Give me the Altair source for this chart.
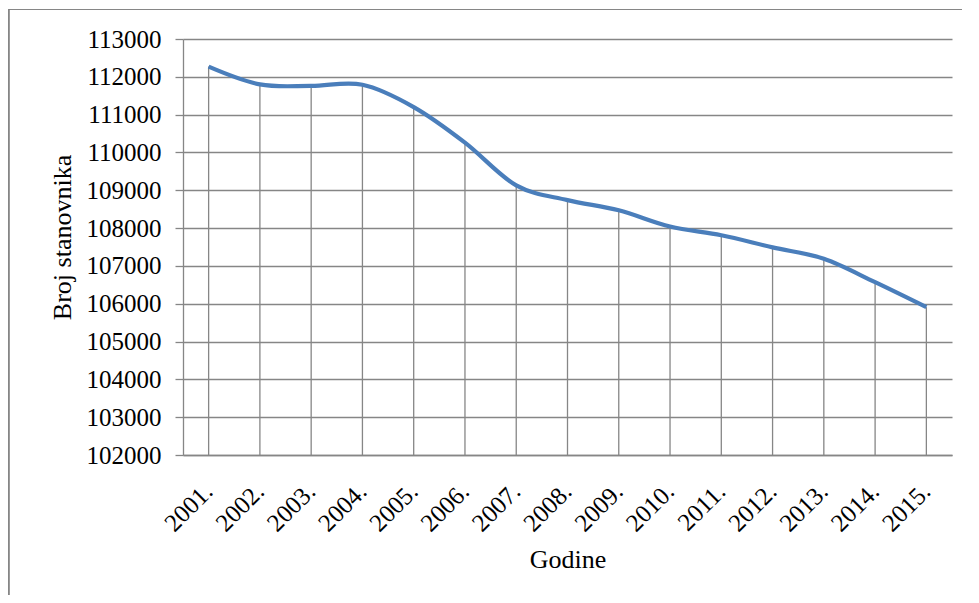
import altair as alt
import pandas as pd

years = ["2001.", "2002.", "2003.", "2004.", "2005.", "2006.", "2007.", "2008.",
         "2009.", "2010.", "2011.", "2012.", "2013.", "2014.", "2015."]
population = [112270, 111800, 111760, 111790, 111200, 110260, 109130, 108740,
              108470, 108040, 107810, 107490, 107190, 106570, 105910]
y_ticks = [102000, 103000, 104000, 105000, 106000, 107000, 108000, 109000,
           110000, 111000, 112000, 113000]
y_min, y_max = 102000, 113000

df = pd.DataFrame({"Godine": years, "Broj": population, "Base": [y_min] * len(years)})

FONT = "Liberation Serif"
GRID = "#868686"

x_axis = alt.Axis(labelAngle=-45, labelAlign="right", labelBaseline="middle",
                  labelPadding=32, ticks=False, grid=False, labelOverlap=False,
                  domainColor=GRID, domainWidth=1.3,
                  titleY=112, titleBaseline="alphabetic", titleFontWeight="normal")
y_axis = alt.Axis(values=y_ticks, tickCount=12, format="d", tickSize=8, tickColor=GRID,
                  tickWidth=1.3, labelPadding=14, domainColor=GRID,
                  labelOverlap=False, labelBound=False,
                  domainWidth=1.3, gridColor=GRID, gridWidth=1.3,
                  titleAngle=-90, titleX=-113, titleY=198,
                  titleAlign="center", titleBaseline="alphabetic",
                  titleFontWeight="normal")
y_scale = alt.Scale(domain=[y_min, y_max], nice=False, zero=False)

x_enc = alt.X("Godine:N", sort=years, title="Godine", axis=x_axis)
y_enc = alt.Y("Broj:Q", scale=y_scale, title="Broj stanovnika", axis=y_axis)

drops = alt.Chart(df).mark_rule(color=GRID, strokeWidth=1.3).encode(
    x=x_enc, y=y_enc, y2="Base:Q",
)

line = alt.Chart(df).mark_line(color="#4a7ebb", strokeWidth=4.2,
                               interpolate="cardinal", strokeCap="butt").encode(
    x=x_enc, y=y_enc,
)

border_top = alt.Chart(df).mark_rule(color=GRID, strokeWidth=1.2).encode(
    x=alt.value(-174.5), x2=alt.value(800), y=alt.value(-29.5))
border_left = alt.Chart(df).mark_rule(color=GRID, strokeWidth=1.2).encode(
    x=alt.value(-174.5), y=alt.value(-29.5), y2=alt.value(600))

chart = alt.layer(drops, line, border_top, border_left).properties(
    width=769, height=416,
    autosize=alt.AutoSizeParams(type="none"),
    padding={"left": 175, "top": 31, "right": 10, "bottom": 140},
).configure_view(stroke=None).configure_axis(
    labelFont=FONT, titleFont=FONT, labelFontSize=25, titleFontSize=26,
    labelColor="black", titleColor="black",
)

chart.save("out.html", embed_options={"renderer": "svg", "actions": False})
